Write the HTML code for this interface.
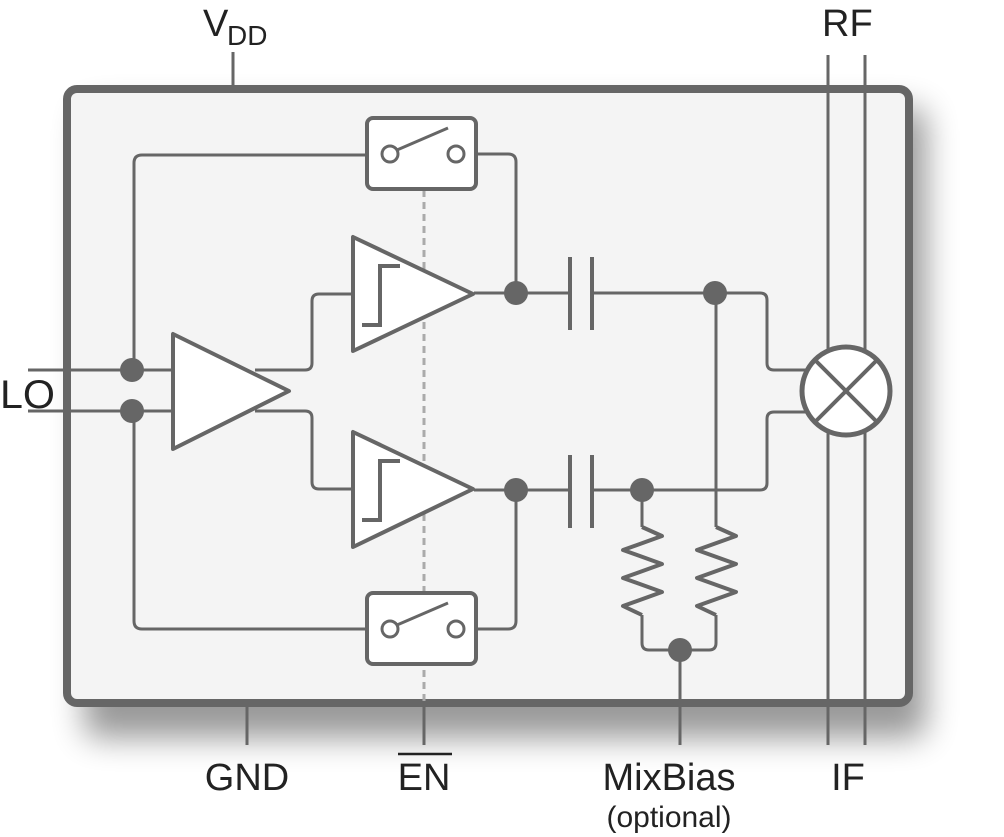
<!DOCTYPE html>
<html><head><style>
body{margin:0;background:#fff;}
svg{display:block;}
text{font-family:"Liberation Sans",sans-serif;fill:#222;}
</style></head><body>
<svg width="1004" height="837" viewBox="0 0 1004 837" xmlns="http://www.w3.org/2000/svg">
<defs>
<filter id="sh" x="-10%" y="-10%" width="130%" height="130%">
<feGaussianBlur stdDeviation="16"/>
</filter>
</defs>
<rect x="84" y="108" width="842" height="630" rx="14" fill="#000" opacity="0.4" filter="url(#sh)"/>
<g stroke="#666" fill="none" stroke-width="3">
<line x1="233" y1="52" x2="233" y2="92"/>
</g>
<rect x="67" y="89" width="842" height="614" rx="10" fill="#f4f4f4" stroke="#666" stroke-width="8"/>
<g stroke="#666" fill="none" stroke-width="3" stroke-linejoin="round">
<line x1="828" y1="55" x2="828" y2="745"/>
<line x1="865" y1="55" x2="865" y2="745"/>
<line x1="247" y1="703" x2="247" y2="745"/>
<line x1="424" y1="703" x2="424" y2="745"/>
<line x1="680" y1="650" x2="680" y2="745"/>
<line x1="424" y1="190" x2="424" y2="703" stroke="#aaa" stroke-dasharray="7,5"/>
<line x1="28" y1="370" x2="172" y2="370"/>
<line x1="28" y1="411" x2="172" y2="411"/>
<path d="M134 370 V163 Q134 155 142 155 H390"/>
<path d="M134 411 V621 Q134 629 142 629 H390"/>
<path d="M255 370 H305 Q312 370 312 363 V301 Q312 294 319 294 H352"/>
<path d="M255 411 H305 Q312 411 312 418 V482 Q312 489 319 489 H352"/>
<path d="M458 154 H508 Q516 154 516 162 V293"/>
<path d="M458 629 H508 Q516 629 516 621 V490"/>
<line x1="474" y1="293" x2="570" y2="293"/>
<line x1="592" y1="293" x2="760" y2="293"/>
<path d="M760 293 Q767 293 767 300 V363 Q767 370 774 370 H806"/>
<line x1="474" y1="490" x2="570" y2="490"/>
<line x1="592" y1="490" x2="760" y2="490"/>
<path d="M760 490 Q767 490 767 483 V419 Q767 412 774 412 H806"/>
<path d="M716 293 V527"/>
<path d="M716 527 L736 536 L697 550 L736 564 L697 578 L736 592 L697 606 L716 615" stroke-width="4"/>
<path d="M716 615 V643 Q716 650 709 650 H649 Q642 650 642 643 V615"/>
<path d="M642 615 L623 606 L662 592 L623 578 L662 564 L623 550 L662 536 L642 527" stroke-width="4"/>
<path d="M642 527 V490"/>
</g>
<g stroke="#666" stroke-width="4" fill="none">
<line x1="570" y1="257" x2="570" y2="330"/>
<line x1="592" y1="257" x2="592" y2="330"/>
<line x1="570" y1="455" x2="570" y2="528"/>
<line x1="592" y1="455" x2="592" y2="528"/>
<rect x="367" y="118" width="109" height="71" rx="6" fill="#fff"/>
<rect x="367" y="593" width="109" height="71" rx="6" fill="#fff"/>
<line x1="397" y1="150" x2="448" y2="128" stroke-width="3"/>
<line x1="397" y1="625" x2="448" y2="603" stroke-width="3"/>
<circle cx="390" cy="154" r="8" fill="#fff" stroke-width="3"/>
<circle cx="456" cy="154" r="8" fill="#fff" stroke-width="3"/>
<circle cx="390" cy="629" r="8" fill="#fff" stroke-width="3"/>
<circle cx="456" cy="629" r="8" fill="#fff" stroke-width="3"/>
<polygon points="173,334 173,449 289,391" fill="#fff" stroke-linejoin="round"/>
<polygon points="353,237 353,351 473,294" fill="#fff" stroke-linejoin="round"/>
<polygon points="353,432 353,547 473,489" fill="#fff" stroke-linejoin="round"/>
<path d="M362 325 H380 V266 H400"/>
<path d="M362 520 H380 V461 H400"/>
<circle cx="846" cy="391" r="44" fill="#fff" stroke-width="5"/>
<line x1="815" y1="360" x2="877" y2="422"/>
<line x1="877" y1="360" x2="815" y2="422"/>
</g>
<g fill="#666">
<circle cx="132" cy="370" r="12"/>
<circle cx="132" cy="411" r="12"/>
<circle cx="516" cy="293" r="12"/>
<circle cx="516" cy="490" r="12"/>
<circle cx="715" cy="293" r="12"/>
<circle cx="642" cy="490" r="12"/>
<circle cx="680" cy="650" r="12"/>
</g>
<text x="203" y="36" font-size="38">V</text>
<text x="227" y="45" font-size="28">DD</text>
<text x="822" y="36" font-size="38">RF</text>
<text x="0" y="408" font-size="40" textLength="55" lengthAdjust="spacingAndGlyphs">LO</text>
<text x="247" y="790" font-size="38" text-anchor="middle">GND</text>
<text x="424" y="790" font-size="38" text-anchor="middle">EN</text>
<line x1="398" y1="754" x2="452" y2="754" stroke="#222" stroke-width="2.5"/>
<text x="669" y="790" font-size="38" text-anchor="middle">MixBias</text>
<text x="669" y="827" font-size="30" text-anchor="middle">(optional)</text>
<text x="848" y="790" font-size="38" text-anchor="middle">IF</text>
</svg>
</body></html>
